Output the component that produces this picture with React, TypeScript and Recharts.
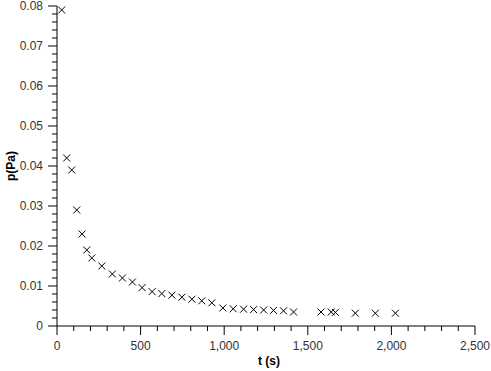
import React from 'react';
import { ScatterChart, Scatter, XAxis, YAxis } from 'recharts';

const timeS = [28, 58, 88, 118, 150, 178, 208, 268, 331, 391, 451, 509, 569, 627, 687, 747, 807, 866, 926, 992, 1054, 1116, 1176, 1236, 1295, 1355, 1415, 1579, 1640, 1665, 1784, 1904, 2024];
const pressurePa = [0.079, 0.042, 0.039, 0.029, 0.023, 0.019, 0.017, 0.015, 0.013, 0.012, 0.011, 0.0096, 0.0086, 0.0081, 0.0077, 0.0072, 0.0067, 0.0063, 0.0058, 0.0045, 0.0043, 0.0042, 0.0041, 0.004, 0.0039, 0.0038, 0.0035, 0.0035, 0.0035, 0.0034, 0.0032, 0.0032, 0.0032];

const xMajorTicks = [0, 500, 1000, 1500, 2000, 2500];
const xAllTicks = [0, 100, 200, 300, 400, 500, 600, 700, 800, 900, 1000, 1100, 1200, 1300, 1400, 1500, 1600, 1700, 1800, 1900, 2000, 2100, 2200, 2300, 2400, 2500];
const yMajorTicks = [0, 0.01, 0.02, 0.03, 0.04, 0.05, 0.06, 0.07, 0.08];
const yAllTicks = [0, 0.002, 0.004, 0.006, 0.008, 0.01, 0.012, 0.014, 0.016, 0.018, 0.02, 0.022, 0.024, 0.026, 0.028, 0.03, 0.032, 0.034, 0.036, 0.038, 0.04, 0.042, 0.044, 0.046, 0.048, 0.05, 0.052, 0.054, 0.056, 0.058, 0.06, 0.062, 0.064, 0.066, 0.068, 0.07, 0.072, 0.074, 0.076, 0.078, 0.08];
const yTickLabels = ['0', '0.01', '0.02', '0.03', '0.04', '0.05', '0.06', '0.07', '0.08'];

const data = timeS.map((t, i) => ({ t, p: pressurePa[i] }));

const FONT = '"Liberation Sans", Arial, sans-serif';
const TEXT_COLOR = '#333';

const isMajor = (arr: number[], v: number) => arr.some((m) => Math.abs(m - v) < 1e-9);

const XTick = (props: any) => {
  const { x, y, payload } = props;
  const v = payload.value;
  const major = isMajor(xMajorTicks, v);
  return (
    <g>
      <line x1={x} x2={x} y1={y} y2={y + (major ? 9 : 5)} stroke="#000" strokeWidth={1} />
      {major && (
        <text x={x} y={y + 20} textAnchor="middle" dominantBaseline="central" fontFamily={FONT} fontSize={12} fill={TEXT_COLOR}>
          {v.toLocaleString('en-US')}
        </text>
      )}
    </g>
  );
};

const YTick = (props: any) => {
  const { x, y, payload } = props;
  const v = payload.value;
  const idx = yMajorTicks.findIndex((m) => Math.abs(m - v) < 1e-9);
  const major = idx >= 0;
  return (
    <g>
      <line x1={x - (major ? 9 : 5)} x2={x} y1={y} y2={y} stroke="#000" strokeWidth={1} />
      {major && (
        <text x={x - 14} y={y} textAnchor="end" dominantBaseline="central" fontFamily={FONT} fontSize={12} fill={TEXT_COLOR}>
          {yTickLabels[idx]}
        </text>
      )}
    </g>
  );
};

const CrossShape = (props: any) => {
  const { cx, cy } = props;
  const s = 3.5;
  return (
    <g>
      <line x1={cx - s} y1={cy - s} x2={cx + s} y2={cy + s} stroke="#000" strokeWidth={1} />
      <line x1={cx - s} y1={cy + s} x2={cx + s} y2={cy - s} stroke="#000" strokeWidth={1} />
    </g>
  );
};

const XLabel = (props: any) => {
  const vb = props.viewBox || {};
  return (
    <text x={vb.x + vb.width / 2 + 3} y={361} textAnchor="middle" dominantBaseline="central" fontFamily={FONT} fontSize={12} fontWeight="bold" fill="#000">
      t (s)
    </text>
  );
};

const YLabel = (props: any) => {
  const vb = props.viewBox || {};
  const cy = vb.y + vb.height / 2;
  return (
    <text x={11} y={cy} transform={`rotate(-90, 11, ${cy})`} textAnchor="middle" dominantBaseline="central" fontFamily={FONT} fontSize={12} fontWeight="bold" fill="#000">
      p(Pa)
    </text>
  );
};

export default function App() {
  return (
    <div style={{ position: 'absolute', left: 0, top: 0, width: 491, height: 371, background: '#fff' }}>
      <ScatterChart width={491} height={371} margin={{ top: 6, right: 16, bottom: 0, left: 0 }}>
        <XAxis
          type="number"
          dataKey="t"
          domain={[0, 2500]}
          ticks={xAllTicks}
          interval={0}
          tick={<XTick />}
          tickLine={false}
          tickSize={0}
          tickMargin={0}
          axisLine={{ stroke: '#000', strokeWidth: 1 }}
          height={45}
          allowDataOverflow
          label={<XLabel />}
        />
        <YAxis
          type="number"
          dataKey="p"
          domain={[0, 0.08]}
          ticks={yAllTicks}
          interval={0}
          tick={<YTick />}
          tickLine={false}
          tickSize={0}
          tickMargin={0}
          axisLine={{ stroke: '#000', strokeWidth: 1 }}
          width={57}
          allowDataOverflow
          label={<YLabel />}
        />
        <Scatter data={data} shape={<CrossShape />} isAnimationActive={false} />
      </ScatterChart>
    </div>
  );
}
